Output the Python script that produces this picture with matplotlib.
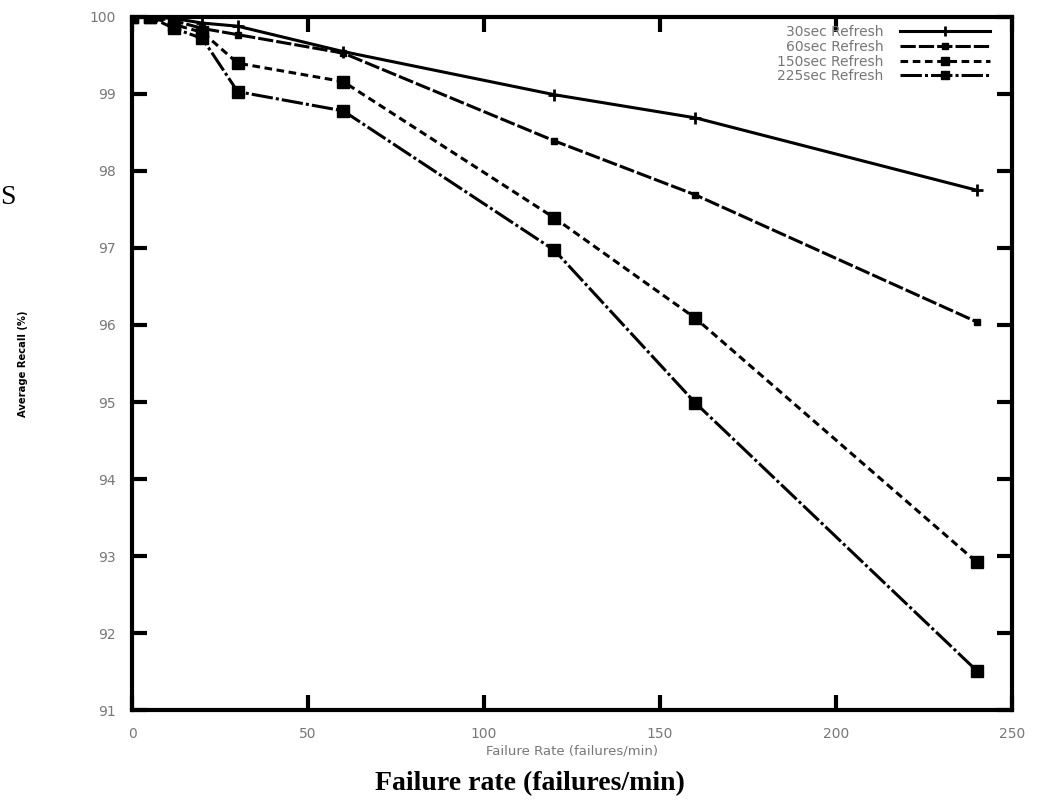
import matplotlib.pyplot as plt

# failure rate (failures/min)
rate = [0, 5, 12, 20, 30, 60, 120, 160, 240]

recall_30 = [100, 100, 99.98, 99.92, 99.88, 99.55, 98.99, 98.69, 97.75]
recall_60 = [100, 100, 99.95, 99.85, 99.77, 99.53, 98.39, 97.69, 96.04]
recall_150 = [100, 100, 99.9, 99.8, 99.40, 99.16, 97.39, 96.09, 92.92]
recall_225 = [100, 100, 99.85, 99.72, 99.03, 98.78, 96.97, 94.99, 91.51]

labels = ['30sec Refresh', '60sec Refresh', '150sec Refresh', '225sec Refresh']
xticks = [0, 50, 100, 150, 200, 250]
yticks = [91, 92, 93, 94, 95, 96, 97, 98, 99, 100]

fig = plt.figure(figsize=(10.43, 8.06), dpi=100)
ax = fig.add_axes([0.1266, 0.119, 0.8437, 0.860])

ax.plot(rate, recall_30, color='black', lw=2.2, ls='-', marker='+', ms=9, mew=2, label=labels[0])
ax.plot(rate, recall_60, color='black', lw=2.2, ls=(0, (5, 1)), marker='s', ms=5, label=labels[1])
ax.plot(rate, recall_150, color='black', lw=2.2, ls=(0, (2.5, 1.5)), marker='s', ms=8, label=labels[2])
ax.plot(rate, recall_225, color='black', lw=2.2, ls=(0, (7, 1, 1, 1)), marker='s', ms=8, label=labels[3])

ax.set_xlim(0, 250)
ax.set_ylim(91, 100)
ax.set_xticks(xticks)
ax.set_yticks(yticks)
ax.tick_params(direction='in', length=11, width=3, top=True, right=True,
               labelsize=10, labelcolor='#777777', pad=12)
for s in ax.spines.values():
    s.set_linewidth(3)

ax.set_xlabel('Failure Rate (failures/min)', fontsize=9.5, color='#777777', labelpad=3)
ax.set_ylabel('Average Recall (%)', fontsize=8, fontstretch='condensed',
              fontweight='bold', labelpad=44)

leg = ax.legend(loc='upper right', bbox_to_anchor=(0.985, 1.0), frameon=False,
                markerfirst=False, fontsize=10, handlelength=6.5, labelspacing=0.05,
                handletextpad=1.2, borderaxespad=0.2, markerscale=0.8)
for t in leg.get_texts():
    t.set_color('#777777')

fig.text(0.508, 0.028, 'Failure rate (failures/min)', ha='center', va='center',
         family='Liberation Serif', fontweight='bold', fontsize=20)
fig.text(0.0, 0.755, 'S', ha='left', va='center', family='Liberation Serif', fontsize=20)

fig.savefig('out.png', dpi=100)
